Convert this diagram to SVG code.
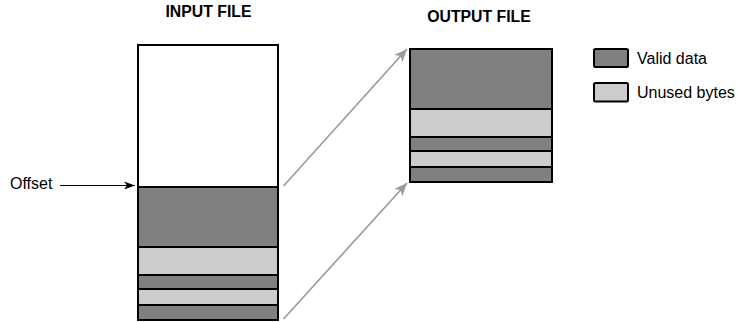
<svg xmlns="http://www.w3.org/2000/svg" width="738" height="322" viewBox="0 0 738 322">
  <style>
    .title { font-family: "Liberation Sans", Arial, sans-serif; font-size: 15.8px; font-weight: bold; fill: #000; text-anchor: middle; }
    .label { font-family: "Liberation Sans", Arial, sans-serif; font-size: 16px; fill: #000; }
    .blk { stroke: #000; stroke-width: 2; }
    .valid { fill: #808080; }
    .unused { fill: #cccccc; }
    .empty { fill: #ffffff; }
    .move { stroke: #999999; stroke-width: 1.6; fill: none; }
    .ptr { stroke: #000; stroke-width: 1.2; fill: none; }
  </style>
  <defs>
    <marker id="grayHead" markerWidth="15" markerHeight="12" refX="13" refY="6" orient="auto" markerUnits="userSpaceOnUse">
      <path d="M0,0.5 L13,6 L0,11.5 L3.5,6 Z" fill="#999999"/>
    </marker>
    <marker id="blackHead" markerWidth="12" markerHeight="10" refX="11" refY="5" orient="auto" markerUnits="userSpaceOnUse">
      <path d="M0,1 L11,5 L0,9 L3,5 Z" fill="#000"/>
    </marker>
  </defs>

  <rect width="738" height="322" fill="#ffffff"/>

  <!-- input file column -->
  <g id="input-file">
    <text class="title" x="208.5" y="17.3">INPUT FILE</text>
    <rect class="blk empty" x="138" y="45" width="140" height="142"/>
    <rect class="blk valid" x="138" y="187" width="140" height="60"/>
    <rect class="blk unused" x="138" y="247" width="140" height="28"/>
    <rect class="blk valid" x="138" y="275" width="140" height="14"/>
    <rect class="blk unused" x="138" y="289" width="140" height="16"/>
    <rect class="blk valid" x="138" y="305" width="140" height="15"/>
  </g>

  <!-- output file column -->
  <g id="output-file">
    <text class="title" x="479" y="21.7">OUTPUT FILE</text>
    <rect class="blk valid" x="410" y="49" width="142" height="60"/>
    <rect class="blk unused" x="410" y="109" width="142" height="28"/>
    <rect class="blk valid" x="410" y="137" width="142" height="14"/>
    <rect class="blk unused" x="410" y="151" width="142" height="16"/>
    <rect class="blk valid" x="410" y="167" width="142" height="15"/>
  </g>

  <!-- legend -->
  <g id="legend-valid">
    <rect class="blk valid" x="594" y="49" width="34" height="18" rx="1.5"/>
    <text class="label" x="637" y="64">Valid data</text>
  </g>
  <g id="legend-unused">
    <rect class="blk unused" x="594" y="83" width="34" height="18.5" rx="1.5"/>
    <text class="label" x="637" y="98.3">Unused bytes</text>
  </g>

  <!-- offset pointer -->
  <g id="offset">
    <text class="label" x="10" y="189">Offset</text>
  </g>

  <g id="connectors">
    <line class="ptr" x1="60" y1="185.5" x2="135" y2="185.5" marker-end="url(#blackHead)"/>
    <line class="move" x1="283.5" y1="186" x2="407" y2="49" marker-end="url(#grayHead)"/>
    <line class="move" x1="283.5" y1="319" x2="407" y2="183" marker-end="url(#grayHead)"/>
  </g>
</svg>
